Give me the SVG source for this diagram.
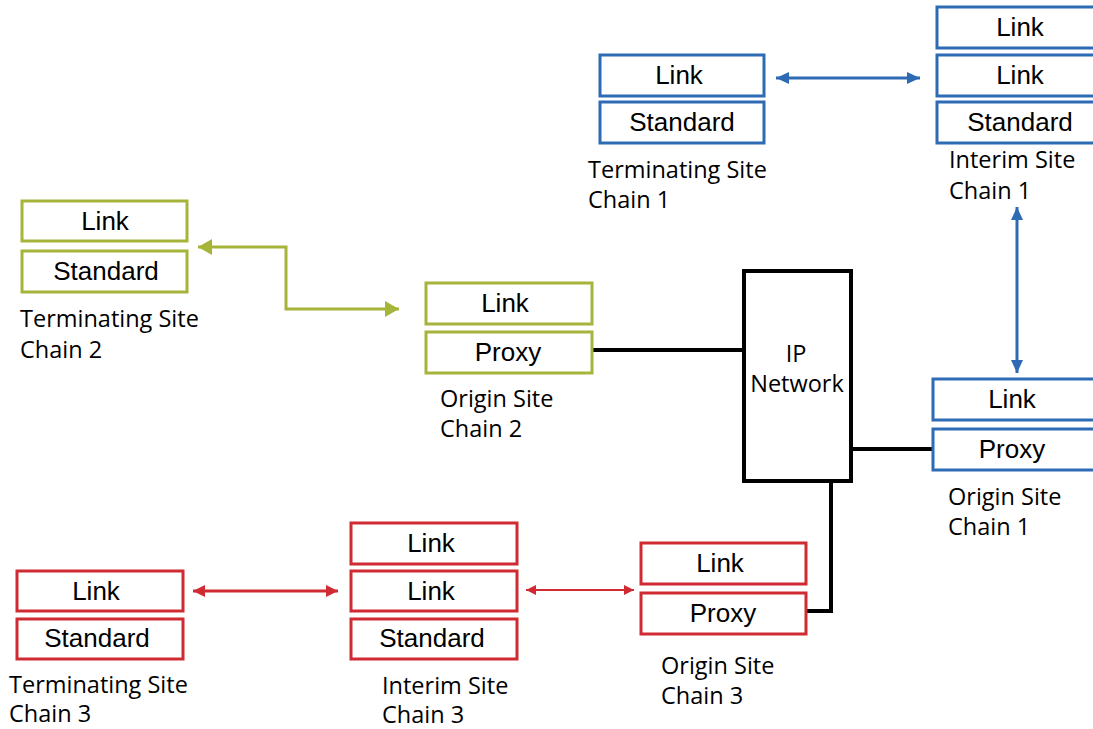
<svg xmlns="http://www.w3.org/2000/svg" width="1093" height="729" viewBox="0 0 1093 729">
<style>
.bx{fill:#fff;stroke-width:3}
.b{stroke:#2e6bb5}
.g{stroke:#a7b43a}
.r{stroke:#d02a33}
.bt{font-family:"Liberation Sans",Arial,sans-serif;font-size:26px;fill:#000;text-anchor:middle}
.lb{font-family:"Open Sans","Noto Sans",sans-serif;font-size:23.5px;fill:#000}
.ln{fill:none;stroke:#000;stroke-width:4}
</style>
<defs>
<marker id="hb" markerUnits="userSpaceOnUse" markerWidth="13" markerHeight="12" refX="13" refY="6" orient="auto-start-reverse"><path d="M0,0 L13,6 L0,12 z" fill="#2e6bb5"/></marker>
<marker id="hg" markerUnits="userSpaceOnUse" markerWidth="14" markerHeight="16" refX="14" refY="8" orient="auto-start-reverse"><path d="M0,0 L14,8 L0,16 z" fill="#a7b43a"/></marker>
<marker id="hr" markerUnits="userSpaceOnUse" markerWidth="12" markerHeight="12" refX="12" refY="6" orient="auto-start-reverse"><path d="M0,0 L12,6 L0,12 z" fill="#d02a33"/></marker>
<marker id="hr2" markerUnits="userSpaceOnUse" markerWidth="10" markerHeight="10" refX="10" refY="5" orient="auto-start-reverse"><path d="M0,0 L10,5 L0,10 z" fill="#d02a33"/></marker>
</defs>

<g id="connectors">
<line x1="776" y1="78" x2="920" y2="78" stroke="#2e6bb5" stroke-width="3" marker-start="url(#hb)" marker-end="url(#hb)"/>
<line x1="1017" y1="207" x2="1017" y2="373" stroke="#2e6bb5" stroke-width="3" marker-start="url(#hb)" marker-end="url(#hb)"/>
<path d="M198,247 H286 V309 H399" fill="none" stroke="#a7b43a" stroke-width="3" marker-start="url(#hg)" marker-end="url(#hg)"/>
<line x1="193" y1="591" x2="338" y2="591" stroke="#d02a33" stroke-width="3" marker-start="url(#hr)" marker-end="url(#hr)"/>
<line x1="526" y1="590" x2="634" y2="590" stroke="#d02a33" stroke-width="2" marker-start="url(#hr2)" marker-end="url(#hr2)"/>
<line class="ln" x1="593" y1="350" x2="744" y2="350"/>
<line class="ln" x1="851" y1="449" x2="933" y2="449"/>
<path class="ln" d="M831,481 V611 H807"/>
</g>

<g id="ip-network">
<rect x="744" y="271" width="107" height="210" fill="#fff" stroke="#000" stroke-width="4"/>
<text class="lb" x="796" y="362" text-anchor="middle">IP</text>
<text class="lb" x="797" y="392" text-anchor="middle">Network</text>
</g>

<g id="terminating-site-chain-1">
<rect class="bx b" x="600" y="55" width="164" height="41"/>
<text class="bt" x="679" y="84">Link</text>
<rect class="bx b" x="600" y="102" width="164" height="41"/>
<text class="bt" x="682" y="131">Standard</text>
<text class="lb" x="588" y="178">Terminating Site</text>
<text class="lb" x="588" y="208">Chain 1</text>
</g>

<g id="interim-site-chain-1">
<rect class="bx b" x="937" y="7" width="166" height="41"/>
<text class="bt" x="1020" y="36">Link</text>
<rect class="bx b" x="937" y="55" width="166" height="41"/>
<text class="bt" x="1020" y="84">Link</text>
<rect class="bx b" x="937" y="102" width="166" height="41"/>
<text class="bt" x="1020" y="131">Standard</text>
<text class="lb" x="949" y="168">Interim Site</text>
<text class="lb" x="949" y="199">Chain 1</text>
</g>

<g id="origin-site-chain-1">
<rect class="bx b" x="933" y="379" width="164" height="41"/>
<text class="bt" x="1012" y="408">Link</text>
<rect class="bx b" x="933" y="429" width="164" height="41"/>
<text class="bt" x="1012" y="458">Proxy</text>
<text class="lb" x="948" y="505">Origin Site</text>
<text class="lb" x="948" y="535">Chain 1</text>
</g>

<g id="terminating-site-chain-2">
<rect class="bx g" x="22" y="201" width="165" height="40"/>
<text class="bt" x="105" y="230">Link</text>
<rect class="bx g" x="22" y="251" width="165" height="41"/>
<text class="bt" x="106" y="280">Standard</text>
<text class="lb" x="20" y="327">Terminating Site</text>
<text class="lb" x="20" y="358">Chain 2</text>
</g>

<g id="origin-site-chain-2">
<rect class="bx g" x="426" y="283" width="166" height="41"/>
<text class="bt" x="505" y="312">Link</text>
<rect class="bx g" x="426" y="332" width="166" height="41"/>
<text class="bt" x="508" y="361">Proxy</text>
<text class="lb" x="440" y="407">Origin Site</text>
<text class="lb" x="440" y="437">Chain 2</text>
</g>

<g id="terminating-site-chain-3">
<rect class="bx r" x="17" y="571" width="166" height="40"/>
<text class="bt" x="96" y="600">Link</text>
<rect class="bx r" x="17" y="619" width="166" height="40"/>
<text class="bt" x="97" y="647">Standard</text>
<text class="lb" x="9" y="693">Terminating Site</text>
<text class="lb" x="9" y="722">Chain 3</text>
</g>

<g id="interim-site-chain-3">
<rect class="bx r" x="351" y="523" width="166" height="41"/>
<text class="bt" x="431" y="552">Link</text>
<rect class="bx r" x="351" y="571" width="166" height="40"/>
<text class="bt" x="431" y="600">Link</text>
<rect class="bx r" x="351" y="619" width="166" height="40"/>
<text class="bt" x="432" y="647">Standard</text>
<text class="lb" x="382" y="694">Interim Site</text>
<text class="lb" x="382" y="723">Chain 3</text>
</g>

<g id="origin-site-chain-3">
<rect class="bx r" x="641" y="543" width="165" height="41"/>
<text class="bt" x="720" y="572">Link</text>
<rect class="bx r" x="641" y="593" width="165" height="41"/>
<text class="bt" x="723" y="622">Proxy</text>
<text class="lb" x="661" y="674">Origin Site</text>
<text class="lb" x="661" y="704">Chain 3</text>
</g>
</svg>
